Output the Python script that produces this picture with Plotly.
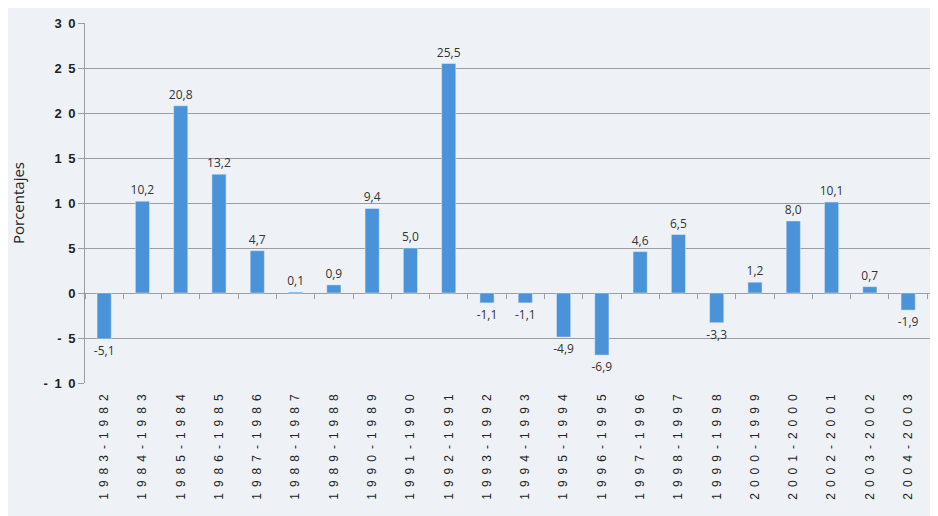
import plotly.graph_objects as go

categories = ["1983-1982", "1984-1983", "1985-1984", "1986-1985", "1987-1986",
              "1988-1987", "1989-1988", "1990-1989", "1991-1990", "1992-1991",
              "1993-1992", "1994-1993", "1995-1994", "1996-1995", "1997-1996",
              "1998-1997", "1999-1998", "2000-1999", "2001-2000", "2002-2001",
              "2003-2002", "2004-2003"]
values = [-5.1, 10.2, 20.8, 13.2, 4.7, 0.1, 0.9, 9.4, 5.0, 25.5,
          -1.1, -1.1, -4.9, -6.9, 4.6, 6.5, -3.3, 1.2, 8.0, 10.1, 0.7, -1.9]
y_ticks = [-10, -5, 0, 5, 10, 15, 20, 25, 30]
y_title = "Porcentajes"

SP = "\u2002"
x_ticktext = [SP.join(c) for c in categories]
y_ticktext = [SP.join(str(v)) for v in y_ticks]

BAR = "#4a93d8"
GRID = "#9a9ea3"
BG = "#eef2f6"

fig = go.Figure()
fig.add_trace(go.Bar(
    x=categories, y=values, marker_color=BAR, marker_line_width=0,
    texttemplate="%{y:.1f}", textposition="outside", cliponaxis=False,
    constraintext="none",
    textfont=dict(family="Open Sans, Arial", size=12, color="#333333"),
    xaxis="x", yaxis="y", showlegend=False,
))
# invisible copy for the tick marks along the zero line
fig.add_trace(go.Bar(
    x=categories, y=values, marker_color="rgba(0,0,0,0)",
    xaxis="x2", yaxis="y", showlegend=False, hoverinfo="skip",
))

xr = [-0.5, 21.78]
fig.update_layout(
    width=938, height=516,
    margin=dict(l=77, r=8, t=12, b=141),
    paper_bgcolor=BG, plot_bgcolor=BG,
    separators=",.",
    bargap=0.63, barmode="overlay",
    uniformtext=dict(mode=False),
    xaxis=dict(
        type="category", range=xr, tickmode="array", tickvals=categories,
        ticktext=x_ticktext, tickangle=-90, ticks="",
        tickfont=dict(family="Liberation Sans, Arial", size=12, color="#222222"),
        showgrid=False, showline=False, zeroline=False,
        ticklabelstandoff=8,
    ),
    xaxis2=dict(
        type="category", range=xr, overlaying="x", anchor="free",
        position=0.25, side="bottom", tickson="boundaries",
        ticks="outside", ticklen=5, tickcolor=GRID, tickwidth=1,
        showticklabels=False, showgrid=False, showline=False, zeroline=False,
    ),
    yaxis=dict(
        range=[-10, 30], tickmode="array", tickvals=y_ticks, ticktext=y_ticktext,
        tickfont=dict(family="Liberation Sans, Arial", size=13, color="#222222",
                      weight="bold"),
        showgrid=True, gridcolor=GRID, gridwidth=1,
        zeroline=True, zerolinecolor=GRID, zerolinewidth=1,
        showline=True, linecolor=GRID, linewidth=1,
        ticks="outside", ticklen=6, tickcolor=GRID,
        title=dict(text=y_title, standoff=16,
                   font=dict(family="Open Sans, Arial", size=15, color="#222222")),
    ),
)

fig.write_html("out.html")
